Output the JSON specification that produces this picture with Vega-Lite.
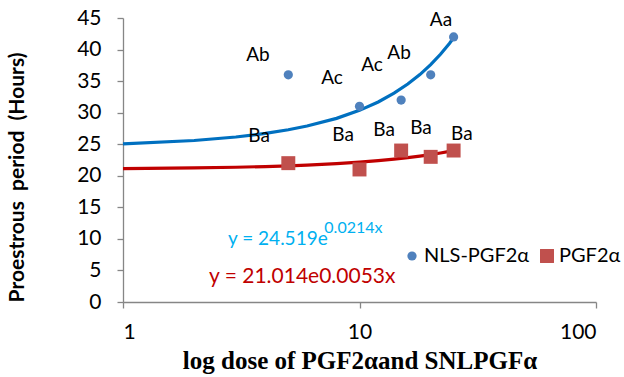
{
  "$schema": "https://vega.github.io/schema/vega-lite/v6.json",
  "width": 473,
  "height": 284,
  "autosize": "none",
  "padding": {"left": 123, "top": 18, "right": 28, "bottom": 75},
  "background": "white",
  "config": {
    "view": {"stroke": null},
    "font": "Lato",
    "axis": {"grid": false, "domainColor": "#868686", "tickColor": "#868686", "tickSize": 6, "labelFont": "Lato", "labelFontSize": 21, "labelColor": "#000000", "domainWidth": 1.3, "tickWidth": 1.3}
  },
  "datasets": {
    "points": [
      {"dose": 5, "hours": 36, "series": "NLS-PGF2α"},
      {"dose": 10, "hours": 31, "series": "NLS-PGF2α"},
      {"dose": 15, "hours": 32, "series": "NLS-PGF2α"},
      {"dose": 20, "hours": 36, "series": "NLS-PGF2α"},
      {"dose": 25, "hours": 42, "series": "NLS-PGF2α"},
      {"dose": 5, "hours": 22, "series": "PGF2α"},
      {"dose": 10, "hours": 21, "series": "PGF2α"},
      {"dose": 15, "hours": 24, "series": "PGF2α"},
      {"dose": 20, "hours": 23, "series": "PGF2α"},
      {"dose": 25, "hours": 24, "series": "PGF2α"}
    ],
    "trendBlue": [
      {"dose": 1, "hours": 25.049}, {"dose": 2, "hours": 25.591}, {"dose": 3, "hours": 26.144},
      {"dose": 4, "hours": 26.710}, {"dose": 5, "hours": 27.288}, {"dose": 6, "hours": 27.878},
      {"dose": 8, "hours": 29.097}, {"dose": 10, "hours": 30.369}, {"dose": 12, "hours": 31.698},
      {"dose": 14, "hours": 33.084}, {"dose": 16, "hours": 34.530}, {"dose": 18, "hours": 36.038},
      {"dose": 20, "hours": 37.613}, {"dose": 22, "hours": 39.257}, {"dose": 24, "hours": 40.971},
      {"dose": 25, "hours": 41.865}
    ],
    "trendRed": [
      {"dose": 1, "hours": 21.126}, {"dose": 2, "hours": 21.238}, {"dose": 3, "hours": 21.351},
      {"dose": 4, "hours": 21.464}, {"dose": 5, "hours": 21.578}, {"dose": 6, "hours": 21.693},
      {"dose": 8, "hours": 21.924}, {"dose": 10, "hours": 22.158}, {"dose": 12, "hours": 22.394},
      {"dose": 14, "hours": 22.633}, {"dose": 16, "hours": 22.874}, {"dose": 18, "hours": 23.118},
      {"dose": 20, "hours": 23.364}, {"dose": 22, "hours": 23.613}, {"dose": 24, "hours": 23.865},
      {"dose": 25, "hours": 23.991}
    ],
    "labels": [
      {"dose": 3.72, "hours": 39.1, "text": "Ab"},
      {"dose": 7.65, "hours": 35.5, "text": "Ac"},
      {"dose": 11.3, "hours": 37.6, "text": "Ac"},
      {"dose": 14.7, "hours": 39.5, "text": "Ab"},
      {"dose": 22.1, "hours": 44.7, "text": "Aa"},
      {"dose": 3.76, "hours": 26.3, "text": "Ba"},
      {"dose": 8.52, "hours": 26.5, "text": "Ba"},
      {"dose": 12.7, "hours": 27.3, "text": "Ba"},
      {"dose": 18.2, "hours": 27.6, "text": "Ba"},
      {"dose": 27.1, "hours": 26.6, "text": "Ba"}
    ],
    "eqBlue": [{"dose": 2.78, "hours": 10.0, "text": "y = 24.519e"}],
    "eqBlueSup": [{"dose": 7.1, "hours": 11.7, "text": "0.0214x"}],
    "eqRed": [{"dose": 2.31, "hours": 4.0, "text": "y = 21.014e0.0053x"}]
  },
  "encoding": {
    "x": {
      "field": "dose", "type": "quantitative",
      "scale": {"type": "log", "domain": [1, 100], "nice": false},
      "axis": {"values": [1, 10, 100], "format": "d", "labelFontSize": 21, "labelPadding": 13, "title": "log dose of PGF2αand SNLPGFα", "titleFont": "Liberation Serif", "titleFontSize": 25, "titleFontWeight": "bold", "titleColor": "#000000", "titleY": 66, "titleBaseline": "alphabetic"}
    },
    "y": {
      "field": "hours", "type": "quantitative",
      "scale": {"domain": [0, 45], "nice": false, "zero": true},
      "axis": {"values": [0, 5, 10, 15, 20, 25, 30, 35, 40, 45], "labelFontSize": 21, "labelPadding": 16, "title": "Proestrous\u00a0 period\u00a0 (Hours)", "titleFont": "Lato", "titleFontSize": 21, "titleFontWeight": "bold", "titleColor": "#000000", "titleX": -106, "titleY": 159, "titleAngle": -90, "titleAlign": "center", "titleBaseline": "middle"}
    }
  },
  "layer": [
    {"data": {"name": "trendBlue"}, "mark": {"type": "line", "color": "#0070C0", "strokeWidth": 3.2}, "encoding": {}},
    {"data": {"name": "trendRed"}, "mark": {"type": "line", "color": "#C00000", "strokeWidth": 3.2}, "encoding": {}},
    {
      "data": {"name": "points"},
      "mark": {"type": "point", "filled": true, "opacity": 1},
      "encoding": {
        "color": {"field": "series", "type": "nominal", "scale": {"domain": ["NLS-PGF2α", "PGF2α"], "range": ["#4F81BD", "#C0504D"]},
          "legend": {"title": null, "orient": "none", "direction": "horizontal", "legendX": 279, "legendY": 228, "labelFont": "Lato", "labelFontSize": 20, "labelColor": "#000000", "columnPadding": 7, "labelOffset": 2, "symbolOpacity": 1}},
        "shape": {"field": "series", "type": "nominal", "scale": {"domain": ["NLS-PGF2α", "PGF2α"], "range": ["circle", "square"]}},
        "size": {"field": "series", "type": "nominal", "scale": {"domain": ["NLS-PGF2α", "PGF2α"], "range": [85, 195]}}
      }
    },
    {"data": {"name": "labels"}, "mark": {"type": "text", "fontSize": 19, "color": "#000000", "font": "Lato"}, "encoding": {"text": {"field": "text"}}},
    {"data": {"name": "eqBlue"}, "mark": {"type": "text", "fontSize": 19, "color": "#00B0F0", "align": "left", "font": "Lato"}, "encoding": {"text": {"field": "text"}}},
    {"data": {"name": "eqBlueSup"}, "mark": {"type": "text", "fontSize": 16, "color": "#00B0F0", "align": "left", "font": "Lato"}, "encoding": {"text": {"field": "text"}}},
    {"data": {"name": "eqRed"}, "mark": {"type": "text", "fontSize": 21, "color": "#C00000", "align": "left", "font": "Lato"}, "encoding": {"text": {"field": "text"}}}
  ]
}
